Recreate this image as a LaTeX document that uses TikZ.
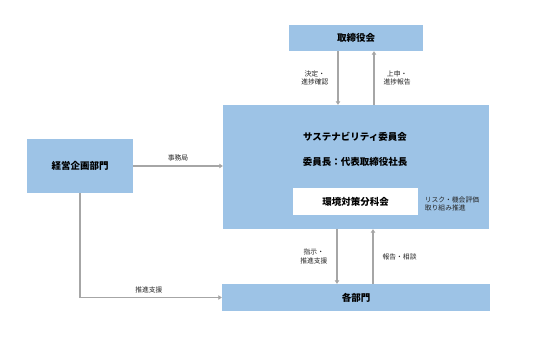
\documentclass[tikz,border=0pt]{standalone}
\usepackage{fontspec}
\setmainfont{Noto Sans CJK JP}
\usetikzlibrary{arrows.meta}
\definecolor{boxblue}{HTML}{9DC3E6}
\definecolor{linegray}{HTML}{A6A6A6}
\begin{document}
\begin{tikzpicture}[x=1pt,y=-1pt,
    box/.style={fill=boxblue,draw=none,inner sep=0pt,font=\fontsize{9.5}{11}\selectfont\bfseries},
    subbox/.style={fill=white,draw=none,inner sep=0pt,font=\fontsize{9.5}{11}\selectfont\bfseries},
    arr/.style={draw=linegray,line width=1.1pt,-{Triangle[width=4.5pt,length=3.5pt]}},
    lbl/.style={font=\fontsize{6.8}{8.6}\selectfont,text=black!85,align=center,inner sep=0pt}]
  \useasboundingbox (0,0) rectangle (533,337);

  % 会議体
  \node[box,minimum width=134pt,minimum height=26pt] (board) at (356,38) {取締役会};
  \node[box,minimum width=266pt,minimum height=124pt] (committee) at (356,167) {};
  \node[font=\fontsize{9.5}{11}\selectfont\bfseries] (title) at (355,137) {サステナビリティ委員会};
  \node[font=\fontsize{9.5}{11}\selectfont\bfseries] (chair) at (355,162) {委員長：代表取締役社長};
  \node[subbox,minimum width=125pt,minimum height=27pt] (env) at (355.5,201.5) {環境対策分科会};
  \node[lbl,align=left] (envtask) at (452,204) {リスク・機会評価\\取り組み推進};

  % 部門
  \node[box,minimum width=106pt,minimum height=54pt] (plan) at (80,166) {経営企画部門};
  \node[box,minimum width=268pt,minimum height=27pt] (depts) at (356,297.5) {各部門};

  % 取締役会との間
  \draw[arr] ([xshift=-18pt]board.south) -- ([xshift=-18pt]committee.north)
    node[lbl,midway,left=9pt] (decide) {決定・\\進捗確認};
  \draw[arr] ([xshift=18pt]committee.north) -- ([xshift=18pt]board.south)
    node[lbl,midway,right=9pt] (report) {上申・\\進捗報告};

  % 各部門との間
  \draw[arr] ([xshift=-19pt]committee.south) -- ([xshift=-19pt]depts.north)
    node[lbl,midway,left=9pt] (direct) {指示・\\推進支援};
  \draw[arr] ([xshift=17pt]depts.north) -- ([xshift=17pt]committee.south)
    node[lbl,midway,right=9pt] (consult) {報告・相談};

  % 経営企画部門から
  \draw[arr] (plan.east) -- (plan.east -| committee.west)
    node[lbl,midway,above=4pt] (office) {事務局};
  \draw[arr] (plan.south) -- (plan.south |- depts.west) -- (depts.west)
    node[lbl,pos=0.5,above=4pt,xshift=-2pt] (support) {推進支援};
\end{tikzpicture}
\end{document}
